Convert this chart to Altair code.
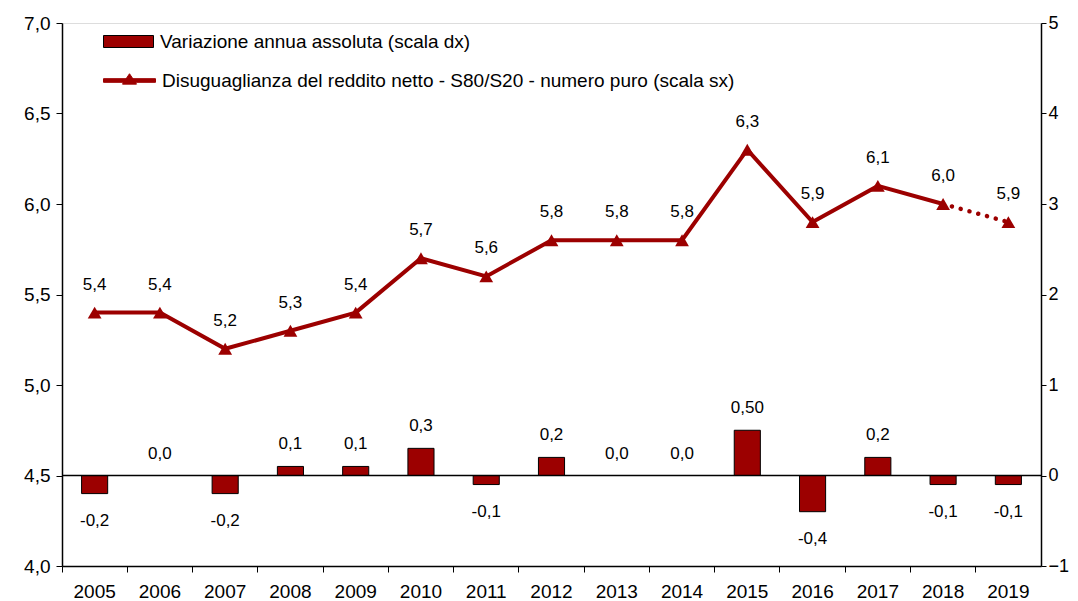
import altair as alt
import pandas as pd

years = ["2005", "2006", "2007", "2008", "2009", "2010", "2011", "2012",
         "2013", "2014", "2015", "2016", "2017", "2018", "2019"]
ineq = [5.4, 5.4, 5.2, 5.3, 5.4, 5.7, 5.6, 5.8, 5.8, 5.8, 6.3, 5.9, 6.1, 6.0, 5.9]
var = [-0.2, 0.0, -0.2, 0.1, 0.1, 0.3, -0.1, 0.2, 0.0, 0.0, 0.5, -0.4, 0.2, -0.1, -0.1]
ineq_labels = ["5,4", "5,4", "5,2", "5,3", "5,4", "5,7", "5,6", "5,8", "5,8", "5,8",
               "6,3", "5,9", "6,1", "6,0", "5,9"]
var_labels = ["-0,2", "0,0", "-0,2", "0,1", "0,1", "0,3", "-0,1", "0,2", "0,0", "0,0",
              "0,50", "-0,4", "0,2", "-0,1", "-0,1"]

BAR_NAME = "Variazione annua assoluta (scala dx)"
LINE_NAME = "Disuguaglianza del reddito netto - S80/S20 - numero puro (scala sx)"
RED = "#9C0000"
FONT = "Liberation Sans"

df = pd.DataFrame({"anno": years, "ineq": ineq, "var": var,
                   "lab_i": ineq_labels, "lab_v": var_labels})
df["bar_s"] = BAR_NAME
df["line_s"] = LINE_NAME
df_solid = df[df["anno"] != "2019"]
df_dot = df[df["anno"].isin(["2018", "2019"])]

x_axis = alt.Axis(bandPosition=0, labelFontSize=19, labelFont=FONT, labelColor="black",
                  tickColor="black", domainColor="black", tickSize=6, labelPadding=10,
                  domainWidth=1.5, labelAngle=0, title=None)
x_scale = alt.Scale(type="band", paddingInner=0, paddingOuter=0)


def xenc():
    return alt.X("anno:N", title=None, sort=years, scale=x_scale, axis=x_axis)


yl_scale = alt.Scale(domain=[4, 7], nice=False, zero=False)
yr_scale = alt.Scale(domain=[-1, 5], nice=False, zero=False)

yl_axis = alt.Axis(orient="left", values=[4, 4.5, 5, 5.5, 6, 6.5, 7], grid=False,
                   labelExpr="replace(format(datum.value, '.1f'), '.', ',')",
                   labelFontSize=19, labelFont=FONT, labelColor="black", tickColor="black",
                   domainColor="black", domainWidth=1.5, tickSize=6, labelPadding=6, title=None)
yr_axis = alt.Axis(orient="right", values=[-1, 0, 1, 2, 3, 4, 5], grid=False, format="d",
                   labelFontSize=18, labelFont=FONT, labelColor="black", tickColor="black",
                   domainColor="black", domainWidth=1.5, tickSize=5, labelPadding=2, title=None)


def yr(field):
    return alt.Y(field, scale=yr_scale, axis=yr_axis, title=None)


def yl(field):
    return alt.Y(field, scale=yl_scale, axis=yl_axis, title=None)


base = alt.Chart(df)

bars = base.mark_bar(width=alt.RelativeBandSize(0.4), stroke="black", strokeWidth=1).encode(
    x=xenc(),
    y=yr("var:Q"),
    fill=alt.Fill("bar_s:N", title=None, scale=alt.Scale(range=[RED]),
                  legend=alt.Legend(orient="none", legendX=41, legendY=-7, padding=0,
                                    symbolType="M-1,-0.24H1V0.24H-1Z", symbolSize=2500,
                                    symbolStrokeColor="black", symbolStrokeWidth=1,
                                    symbolFillColor=RED,
                                    labelFontSize=19, labelFont=FONT, labelColor="black",
                                    labelLimit=1000, labelOffset=6)),
)
zero_rule = alt.Chart(pd.DataFrame({"z": [0]})).mark_rule(color="black", strokeWidth=1.5).encode(
    y=yr("z:Q")
)
lab_pos = base.transform_filter("datum.var >= 0").mark_text(
    dy=-22, fontSize=17, font=FONT, color="black", baseline="middle").encode(
    x=xenc(), y=yr("var:Q"), text="lab_v:N",
)
lab_neg = base.transform_filter("datum.var < 0").mark_text(
    dy=27, fontSize=17, font=FONT, color="black", baseline="middle").encode(
    x=xenc(), y=yr("var:Q"), text="lab_v:N",
)
right = alt.layer(bars, zero_rule, lab_pos, lab_neg)

line = alt.Chart(df_solid).mark_line(strokeWidth=4).encode(
    x=xenc(),
    y=yl("ineq:Q"),
    stroke=alt.Stroke("line_s:N", title=None, scale=alt.Scale(range=[RED]),
                      legend=alt.Legend(orient="none", legendX=41, legendY=31, padding=0,
                                        symbolType="M-1,-0.07H1V0.07H-1Z M-0.27,0.14L0,-0.26L0.27,0.14Z",
                                        symbolSize=2704, symbolFillColor=RED,
                                        symbolStrokeColor=RED, symbolStrokeWidth=1,
                                        labelFontSize=19, labelFont=FONT, labelColor="black",
                                        labelLimit=1000, labelOffset=6)),
)
dots = alt.Chart(df_dot).mark_line(strokeWidth=4.5, strokeDash=[0.1, 9], strokeCap="round",
                                   color=RED).encode(
    x=xenc(), y=yl("ineq:Q"),
)
pts = base.mark_point(shape="triangle-up", filled=True, size=190, color=RED, opacity=1).encode(
    x=xenc(), y=yl("ineq:Q"),
)
lab_line = base.mark_text(dy=-28, fontSize=17, font=FONT, color="black", baseline="middle").encode(
    x=xenc(), y=yl("ineq:Q"), text="lab_i:N",
)
left = alt.layer(line, dots, pts, lab_line)

chart = alt.layer(right, left).resolve_scale(y="independent").properties(
    width=979, height=543,
    autosize=alt.AutoSizeParams(type="none"),
    padding={"left": 54, "top": 15, "right": 29, "bottom": 38},
).configure_view(strokeWidth=0).configure(background="white")

chart.save("out.html", embed_options={"renderer": "svg", "actions": False})
